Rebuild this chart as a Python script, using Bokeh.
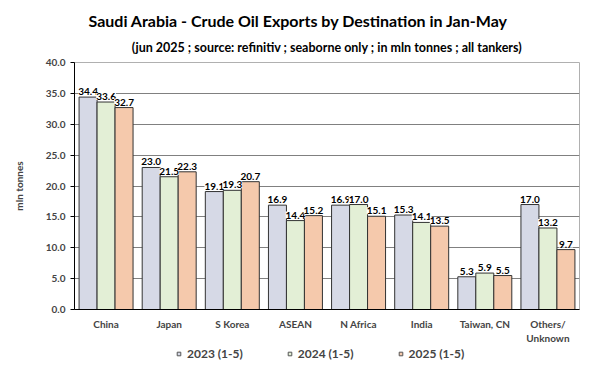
from bokeh.plotting import figure
from bokeh.layouts import column
from bokeh.models import ColumnDataSource, LabelSet, FactorRange, Title, Range1d, NumeralTickFormatter, FixedTicker, Legend
from bokeh.core.properties import value
from bokeh.transform import dodge
from bokeh.embed import file_html
from bokeh.resources import INLINE

categories = ["China", "Japan", "S Korea", "ASEAN", "N Africa", "India", "Taiwan, CN", "Others/\nUnknown"]
v2023 = [34.4, 23.0, 19.1, 16.9, 16.9, 15.3, 5.3, 17.0]
v2024 = [33.6, 21.5, 19.3, 14.4, 17.0, 14.1, 5.9, 13.2]
v2025 = [32.7, 22.3, 20.7, 15.2, 15.1, 13.5, 5.5, 9.7]
series_names = ["2023 (1-5)", "2024 (1-5)", "2025 (1-5)"]
y_ticks = [0, 5, 10, 15, 20, 25, 30, 35, 40]

colors = ["#d6d9e6", "#e3efd6", "#f5c9ac"]
FONT = "Lato"

src = ColumnDataSource(dict(
    cat=categories, v2023=v2023, v2024=v2024, v2025=v2025,
    l2023=[f"{v:.1f}" for v in v2023],
    l2024=[f"{v:.1f}" for v in v2024],
    l2025=[f"{v:.1f}" for v in v2025],
))

p = figure(frame_width=505, frame_height=247,
           x_range=FactorRange(*categories), y_range=Range1d(0, 40),
           output_backend="svg", toolbar_location=None,
           min_border_left=74, min_border_right=5, min_border_top=54, min_border_bottom=36)

p.add_layout(Title(text="(jun 2025 ; source: refinitiv ; seaborne only ; in mln tonnes ; all tankers)",
                   text_font=FONT, text_font_size="12.5px", text_font_style="bold", align="center",
                   text_color="#000000", standoff=15), "above")
p.add_layout(Title(text="Saudi Arabia - Crude Oil Exports by Destination in Jan-May",
                   text_font=FONT, text_font_size="16px", text_font_style="bold", align="left",
                   offset=14, text_color="#000000", standoff=2), "above")
p.add_layout(Title(text=" ", text_font=FONT, text_font_size="4px", standoff=0), "above")
p.title.visible = False

w = 0.285
keys = ["2023", "2024", "2025"]
offs = [-w, 0, w]
for k, off, c in zip(keys, offs, colors):
    xx = dodge("cat", off, range=p.x_range)
    p.vbar(x=xx, top="v" + k, width=w, source=src, fill_color=c, line_color="#333333",
           line_width=1)
    p.add_layout(LabelSet(x=xx, y="v" + k, text="l" + k, source=src, text_align="center",
                          text_baseline="bottom", y_offset=2, text_font=value(FONT),
                          text_font_size="10px", text_font_style="bold", text_color="#000000",
                          background_fill_color="white", background_fill_alpha=1.0))

p.yaxis.ticker = FixedTicker(ticks=y_ticks)
p.yaxis.formatter = NumeralTickFormatter(format="0.0")
p.yaxis.axis_label = "mln tonnes"
p.yaxis.axis_label_text_font = FONT
p.yaxis.axis_label_text_font_size = "10px"
p.yaxis.axis_label_text_font_style = "bold"
p.yaxis.axis_label_standoff = 18
p.yaxis.major_label_text_font = FONT
p.yaxis.major_label_text_font_size = "10px"
p.yaxis.major_label_text_font_style = "bold"
p.yaxis.minor_tick_line_color = None
p.yaxis.major_tick_in = 0
p.yaxis.major_tick_out = 4
p.axis.axis_line_color = "#000000"
p.axis.major_tick_line_color = "#000000"

p.xaxis.major_label_text_font = FONT
p.xaxis.major_label_text_font_size = "10px"
p.xaxis.major_label_text_font_style = "bold"
p.xaxis.major_tick_line_color = None
p.xaxis.major_tick_out = 0
p.xaxis.major_label_standoff = 8

p.xgrid.grid_line_color = None
p.ygrid.grid_line_color = "#808080"
p.ygrid.grid_line_width = 1
p.outline_line_color = "#b0b0b0"
p.x_range.range_padding = 0.0
p.x_range.group_padding = 0

# legend strip below the chart (legend renderers sit outside the visible range)
q = figure(width=584, height=22, x_range=Range1d(0, 1), y_range=Range1d(0, 1),
           output_backend="svg", toolbar_location=None, x_axis_type=None, y_axis_type=None,
           min_border=0)
q.outline_line_color = None
q.xgrid.grid_line_color = None
q.ygrid.grid_line_color = None
items = []
for c, name in zip(colors, series_names):
    r = q.scatter(x=[-5], y=[-5], marker="square", size=8, fill_color=c, line_color="#555555")
    items.append((name, [r]))
leg = Legend(items=items, orientation="horizontal", location=(100, 7))
leg.border_line_color = None
leg.background_fill_alpha = 0
leg.label_text_font = FONT
leg.label_text_font_size = "12px"
leg.label_text_font_style = "bold"
leg.glyph_width = 9
leg.glyph_height = 9
leg.label_height = 12
leg.label_standoff = 4
leg.spacing = 42
leg.padding = 0
leg.margin = 0
q.add_layout(leg, "center")

layout = column(p, q, spacing=0)
open("out.html", "w").write(file_html(layout, INLINE))
